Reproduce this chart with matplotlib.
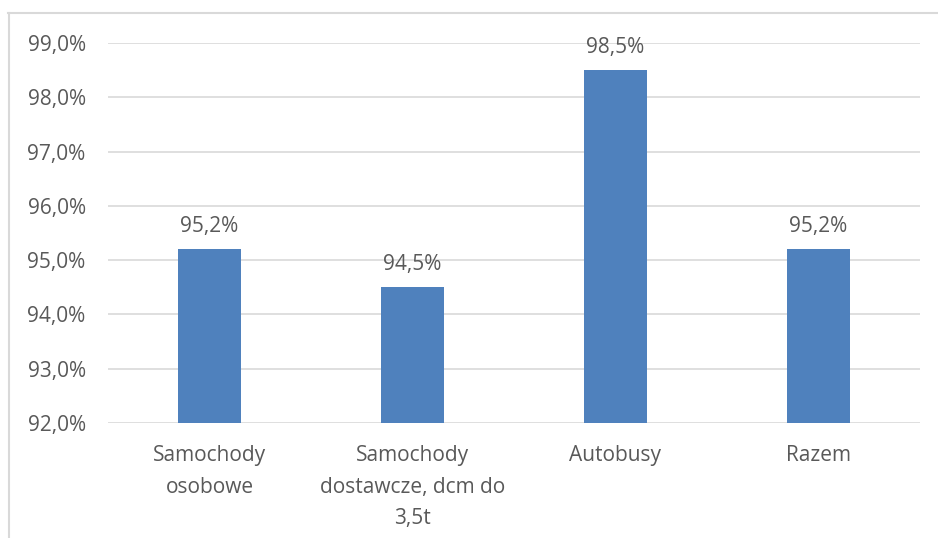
import matplotlib.pyplot as plt
from matplotlib.ticker import FuncFormatter
from matplotlib.lines import Line2D

categories = ['Samochody\nosobowe', 'Samochody\ndostawcze, dcm do\n3,5t', 'Autobusy', 'Razem']
values = [95.2, 94.5, 98.5, 95.2]
yticks = [92, 93, 94, 95, 96, 97, 98, 99]

TEXT = '#595959'
FS = 15
plt.rcParams['font.family'] = ['Open Sans', 'DejaVu Sans']


def pct(v, _pos=None):
    return f'{v:.1f}%'.replace('.', ',')


def main() -> None:
    fig = plt.figure(figsize=(9.38, 5.38), dpi=100)
    ax = fig.add_axes([0.1151, 0.2138, 0.8657, 0.7063])

    x = range(len(categories))
    ax.bar(x, values, width=0.31, color='#4F81BD', zorder=3)
    for xi, v in zip(x, values):
        ax.annotate(pct(v), (xi, v), xytext=(0, 9), textcoords='offset points',
                    ha='center', va='bottom', fontsize=FS, color=TEXT)

    ax.set_xlim(-0.5, len(categories) - 0.5)
    ax.set_ylim(92, 99)
    ax.set_yticks(yticks)
    ax.yaxis.set_major_formatter(FuncFormatter(pct))
    ax.set_xticks(list(x))
    ax.set_xticklabels(categories, fontsize=FS, color=TEXT, linespacing=1.65)
    ax.tick_params(axis='y', labelsize=FS, labelcolor=TEXT, length=0, pad=16)
    ax.tick_params(axis='x', length=0, pad=16)
    ax.grid(axis='y', color='#D9D9D9', linewidth=1.2, zorder=0)
    for s in ax.spines.values():
        s.set_visible(False)

    # chart area frame (top and left edges only)
    fig.add_artist(Line2D([8 / 938, 1], [1 - 13 / 538] * 2, color='#D9D9D9', lw=1.5,
                          transform=fig.transFigure))
    fig.add_artist(Line2D([8.5 / 938] * 2, [0, 1 - 13 / 538], color='#D9D9D9', lw=1.5,
                          transform=fig.transFigure))

    fig.savefig('out.png', dpi=100)


if __name__ == '__main__':
    main()
